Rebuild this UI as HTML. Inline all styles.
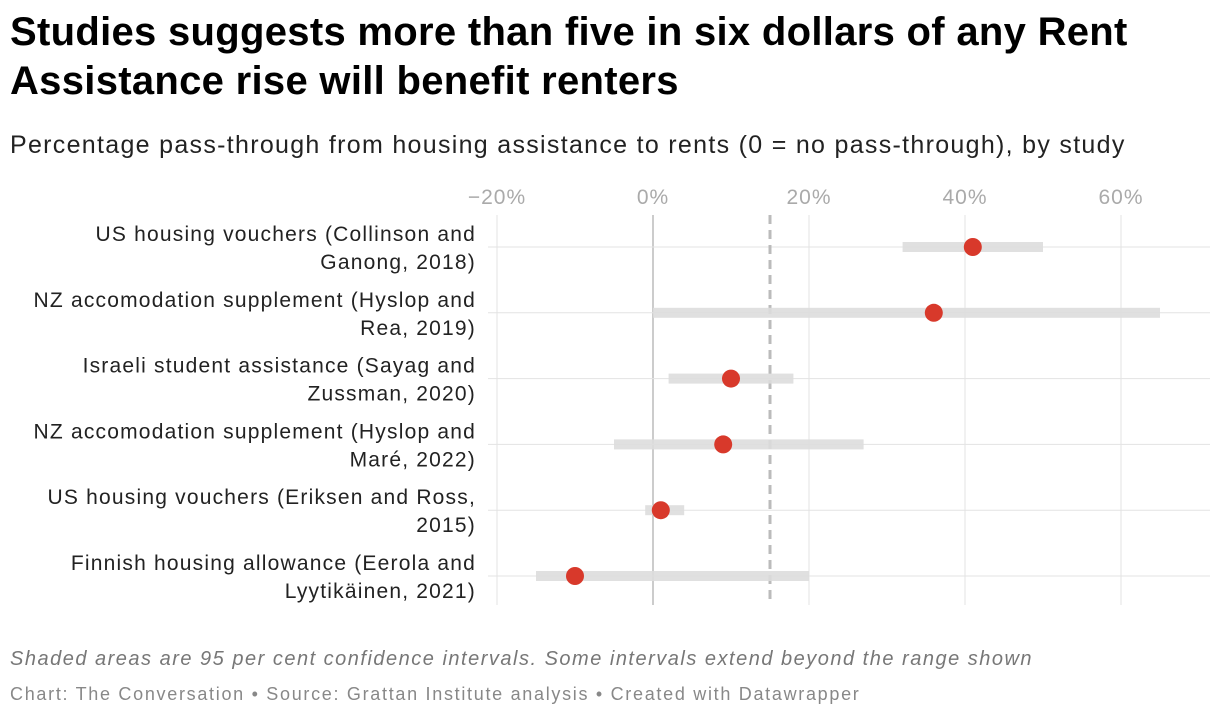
<!DOCTYPE html>
<html><head><meta charset="utf-8"><style>
body{margin:0;background:#fff;width:1220px;height:720px;overflow:hidden;font-family:"Liberation Sans",sans-serif;}
h1{position:absolute;left:10px;top:8px;margin:0;font-size:40px;line-height:49px;font-weight:bold;color:#000;width:1200px;letter-spacing:0.3px}
.sub{position:absolute;left:10px;top:131px;font-size:25px;color:#222;white-space:nowrap;letter-spacing:1.3px}
.note{position:absolute;left:10px;top:648px;font-size:20px;font-style:italic;color:#777;white-space:nowrap;letter-spacing:1.5px}
.src{position:absolute;left:10px;top:684px;font-size:18px;color:#888;white-space:nowrap;letter-spacing:1.7px}
svg{position:absolute;left:0;top:0}
</style></head><body>
<h1>Studies suggests more than five in six dollars of any Rent Assistance rise will benefit renters</h1>
<div class="sub">Percentage pass-through from housing assistance to rents (0 = no pass-through), by study</div>
<svg id="c" width="1220" height="720"></svg>
<div class="note">Shaded areas are 95 per cent confidence intervals. Some intervals extend beyond the range shown</div>
<div class="src">Chart: The Conversation • Source: Grattan Institute analysis • Created with Datawrapper</div>
<script>
const labels=[["US housing vouchers (Collinson and","Ganong, 2018)"],["NZ accomodation supplement (Hyslop and","Rea, 2019)"],["Israeli student assistance (Sayag and","Zussman, 2020)"],["NZ accomodation supplement (Hyslop and","Maré, 2022)"],["US housing vouchers (Eriksen and Ross,","2015)"],["Finnish housing allowance (Eerola and","Lyytikäinen, 2021)"]];
const estimates=[41,36,10,9,1,-10];
const lows=[32,0,2,-5,-1,-15];
const highs=[50,65,18,27,4,20];
const ticks=[-20,0,20,40,60];
const tickLabels=["−20%","0%","20%","40%","60%"];
const refLine=15;
const svg=document.getElementById('c');const NS="http://www.w3.org/2000/svg";
const x=v=>653+v*7.8;const y=i=>247+i*65.8;
function el(t,a,name){const e=document.createElementNS(NS,t);for(const k in a)e.setAttribute(k,a[k]);


svg.appendChild(e);return e;}
ticks.forEach((t,i)=>{el('line',{x1:x(t),x2:x(t),y1:215,y2:605,stroke:t===0?'#bbb':'#e3e3e3','stroke-width':t===0?1.5:1},'x-gridline');
const tx=el('text',{x:x(t),y:204,'text-anchor':'middle','font-size':21,'letter-spacing':1,fill:'#aaa','font-family':'Liberation Sans,sans-serif'},'x-tick-label');tx.textContent=tickLabels[i];});
labels.forEach((l,i)=>{el('line',{x1:488,x2:1210,y1:y(i),y2:y(i),stroke:'#e3e3e3'},'row-gridline');
l.forEach((s,j)=>{const t=el('text',{x:476,y:y(i)-6+j*28,'text-anchor':'end','font-size':21,'letter-spacing':1.2,fill:'#222','font-family':'Liberation Sans,sans-serif'},'row-label');t.textContent=s;});});
el('line',{x1:x(refLine),x2:x(refLine),y1:215,y2:605,stroke:'#bbb','stroke-width':3,'stroke-dasharray':'9,6'},'reference-line');
estimates.forEach((v,i)=>{el('rect',{x:x(lows[i]),y:y(i)-5,width:x(highs[i])-x(lows[i]),height:10,fill:'#ddd',opacity:0.9},'confidence-interval');
el('circle',{cx:x(v),cy:y(i),r:9,fill:'#d8392b'},'estimate-dot');});
</script>
</body></html>
